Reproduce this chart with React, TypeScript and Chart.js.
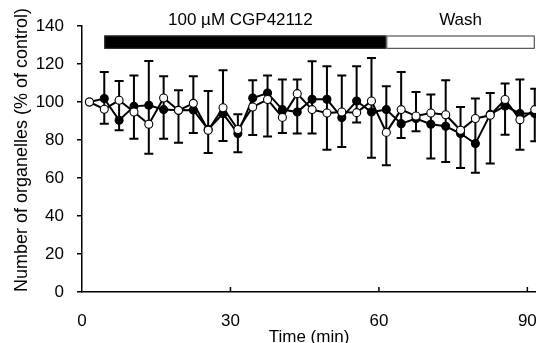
import { useEffect, useRef } from 'react';
import { Chart, registerables } from 'chart.js';

Chart.register(...registerables);

// ---- data ----
const times = [1.5, 4.5, 7.5, 10.5, 13.5, 16.5, 19.5, 22.5, 25.5, 28.5, 31.5, 34.5, 37.5, 40.5, 43.5, 46.5, 49.5, 52.5, 55.5, 58.5, 61.5, 64.5, 67.5, 70.5, 73.5, 76.5, 79.5, 82.5, 85.5, 88.5, 91.5];
const openMean = [100, 96.2, 100.9, 94.7, 88.3, 102.1, 95.6, 99.3, 85.1, 97, 85.5, 97.4, 101.3, 91.9, 104.4, 96, 94.2, 94.7, 94.4, 100.5, 84, 96, 92.6, 94.2, 93.3, 85.1, 91.3, 93, 101.3, 90.7, 96];
const openSD = [0, 19.6, 10.1, 19.3, 33.3, 11.4, 10.6, 14.2, 20.7, 19.7, 8, 14, 12.7, 19.9, 7.4, 25.4, 24.6, 19.3, 24.4, 22.7, 24.3, 19.8, 12.7, 9.8, 18.1, 12.3, 10.5, 11.7, 8.4, 21.2, 11];
const filledMean = [100, 101.8, 90.4, 97.7, 98.3, 96, 95.6, 95.8, 85.5, 93.9, 83.4, 102.1, 104.7, 96, 94.7, 101.4, 101.4, 91.8, 100.5, 94.7, 96, 88.6, 91.3, 88.3, 87.2, 83.4, 78.1, 93.5, 97.9, 93.9, 93.9];
const filledSD = [0, 13.2, 5.3, 17, 25.5, 15.3, 17, 12.1, 12.3, 14.4, 9.9, 19.5, 22.8, 12.3, 11.3, 18, 26.5, 15.5, 11.3, 24, 29.3, 7.6, 6.7, 18.1, 18.8, 18.1, 15.3, 25.9, 15.1, 19, 14.6];

const xTicks = [0, 30, 60, 90];
const yTicks = [0, 20, 40, 60, 80, 100, 120, 140];

const periodLabels = ['100 µM CGP42112', 'Wash'];
const periodStart = [4.5, 61.5];
const periodEnd = [61.5, 91.5];
const periodLabelAt = [32, 76.5];
const periodFill = ['#000000', '#ffffff'];

const xTitle = 'Time (min)';
const yTitle = 'Number of organelles (% of control)';

// ---- layout constants ----
const VISIBLE_W = 536;
const CANVAS_W = 570;
const CANVAS_H = 343;
const X_MAX = 96.6;
const BAR_LOW = 128;
const BAR_HIGH = 135;
const LABEL_LEVEL = 143;
const FONT = "'Liberation Sans', Arial, Helvetica, sans-serif";

const errorBarPlugin = {
  id: 'errorBars',
  beforeDatasetsDraw(chart: any) {
    const { ctx, scales } = chart;
    const xs = scales.x;
    const ys = scales.y;
    ctx.save();
    ctx.strokeStyle = '#000';
    ctx.lineWidth = 2;
    const cap = 4.5;
    times.forEach((t, i) => {
      if (openSD[i] === 0 && filledSD[i] === 0) return;
      const x = xs.getPixelForValue(t);
      const yTop = ys.getPixelForValue(openMean[i] + openSD[i]);
      const yBot = ys.getPixelForValue(filledMean[i] - filledSD[i]);
      ctx.beginPath();
      ctx.moveTo(x, yTop);
      ctx.lineTo(x, yBot);
      ctx.moveTo(x - cap, yTop);
      ctx.lineTo(x + cap, yTop);
      ctx.moveTo(x - cap, yBot);
      ctx.lineTo(x + cap, yBot);
      ctx.stroke();
    });
    ctx.restore();
  },
};

const decorPlugin = {
  id: 'decor',
  afterDraw(chart: any) {
    const { ctx, scales, chartArea } = chart;
    const xs = scales.x;
    const ys = scales.y;
    ctx.save();
    // inward x ticks
    ctx.strokeStyle = '#000';
    ctx.lineWidth = 1.5;
    xTicks.forEach((v) => {
      if (v === 0) return;
      const x = xs.getPixelForValue(v);
      ctx.beginPath();
      ctx.moveTo(x, chartArea.bottom);
      ctx.lineTo(x, chartArea.bottom - 5);
      ctx.stroke();
    });
    // treatment bars
    const yT = ys.getPixelForValue(BAR_HIGH);
    const yB = ys.getPixelForValue(BAR_LOW);
    periodLabels.forEach((lab, i) => {
      const x0 = xs.getPixelForValue(periodStart[i]);
      const x1 = xs.getPixelForValue(periodEnd[i]);
      ctx.fillStyle = periodFill[i];
      ctx.fillRect(x0, yT, x1 - x0, yB - yT);
      ctx.strokeStyle = '#333';
      ctx.lineWidth = 1;
      ctx.strokeRect(x0 + 0.5, yT + 0.5, x1 - x0 - 1, yB - yT - 1);
      ctx.fillStyle = '#000';
      ctx.font = `17px ${FONT}`;
      ctx.textAlign = 'center';
      ctx.textBaseline = 'middle';
      ctx.fillText(lab, xs.getPixelForValue(periodLabelAt[i]), ys.getPixelForValue(LABEL_LEVEL));
    });
    // axis titles
    ctx.fillStyle = '#000';
    ctx.font = `17px ${FONT}`;
    ctx.textAlign = 'center';
    ctx.textBaseline = 'alphabetic';
    ctx.fillText(xTitle, (chartArea.left + VISIBLE_W) / 2, CANVAS_H - 1.5);
    ctx.save();
    ctx.translate(22, (chartArea.top + chartArea.bottom) / 2 - 9);
    ctx.rotate(-Math.PI / 2);
    ctx.font = `18px ${FONT}`;
    ctx.textBaseline = 'middle';
    ctx.fillText(yTitle, 0, 0);
    ctx.restore();
    ctx.restore();
  },
};

export default function App() {
  const ref = useRef<HTMLCanvasElement>(null);
  useEffect(() => {
    if (!ref.current) return;
    Chart.defaults.font.family = FONT;
    Chart.defaults.font.size = 17;
    Chart.defaults.color = '#000';
    const chart = new Chart(ref.current, {
      type: 'line',
      data: {
        datasets: [
          {
            label: 'open',
            data: times.map((t, i) => ({ x: t, y: openMean[i] })),
            borderColor: '#000',
            borderWidth: 2,
            backgroundColor: '#fff',
            pointBackgroundColor: '#fff',
            pointBorderColor: '#000',
            pointBorderWidth: 1.1,
            pointRadius: 4,
            tension: 0,
          },
          {
            label: 'filled',
            data: times.map((t, i) => ({ x: t, y: filledMean[i] })),
            borderColor: '#000',
            borderWidth: 2,
            backgroundColor: '#000',
            pointBackgroundColor: '#000',
            pointBorderColor: '#000',
            pointBorderWidth: 1.1,
            pointRadius: 4,
            tension: 0,
          },
        ],
      },
      options: {
        animation: false,
        responsive: false,
        devicePixelRatio: 1,
        events: [],
        layout: { padding: { top: 26, right: 10, bottom: 0, left: 0 } },
        plugins: { legend: { display: false }, tooltip: { enabled: false } },
        scales: {
          x: {
            type: 'linear',
            min: 0,
            max: X_MAX,
            afterFit: (s: any) => { s.height = 51; },
            afterBuildTicks: (s: any) => { s.ticks = xTicks.map((v) => ({ value: v })); },
            grid: { display: true, drawOnChartArea: false, drawTicks: false, color: 'rgba(0,0,0,0)' },
            border: { display: true, color: '#000', width: 1.5 },
            ticks: { padding: 19, font: { size: 17 }, color: '#000', maxRotation: 0, autoSkip: false },
          },
          y: {
            type: 'linear',
            min: 0,
            max: 140,
            afterFit: (s: any) => { s.width = 82; },
            afterBuildTicks: (s: any) => { s.ticks = yTicks.map((v) => ({ value: v })); },
            grid: { display: true, drawOnChartArea: false, drawTicks: true, tickLength: 5, tickColor: '#000', lineWidth: 1.5 },
            border: { display: true, color: '#000', width: 1.5 },
            ticks: { padding: 13, font: { size: 17 }, color: '#000' },
          },
        },
      },
      plugins: [errorBarPlugin, decorPlugin],
    } as any);
    return () => chart.destroy();
  }, []);
  return (
    <div style={{ position: 'fixed', left: 0, top: 0, width: VISIBLE_W, height: CANVAS_H, overflow: 'hidden', background: '#fff' }}>
      <canvas ref={ref} width={CANVAS_W} height={CANVAS_H} style={{ display: 'block', width: CANVAS_W, height: CANVAS_H }} />
    </div>
  );
}
